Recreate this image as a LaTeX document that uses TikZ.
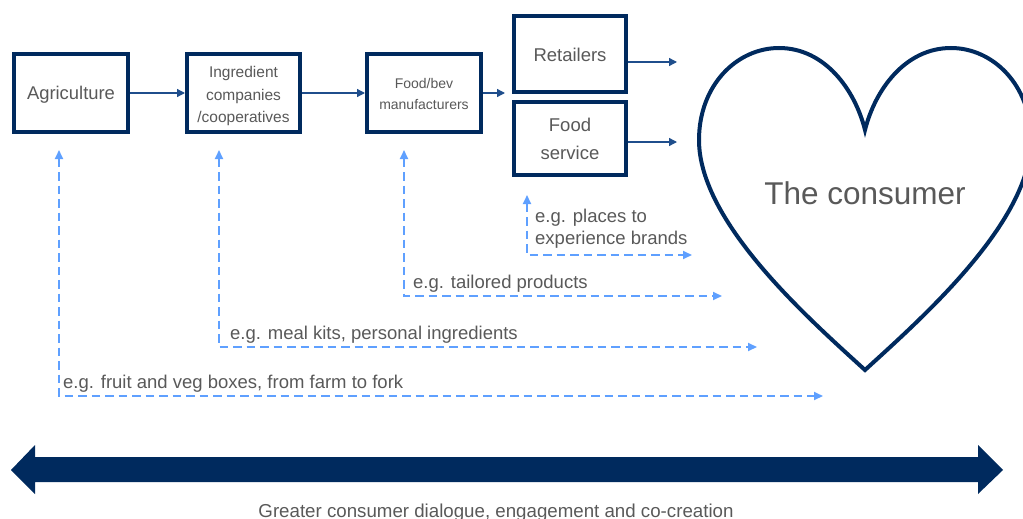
\documentclass[tikz,border=0pt]{standalone}
\usepackage{fontspec}
\setmainfont{Liberation Sans}
\usetikzlibrary{arrows.meta}

\definecolor{navy}{RGB}{0,42,94}
\definecolor{flowblue}{RGB}{31,78,140}
\definecolor{linkblue}{RGB}{95,160,255}
\definecolor{txtgray}{RGB}{89,89,89}

\newcommand{\fs}[2]{\fontsize{#1}{#2}\selectfont}
% lower a block of centred lines without changing its reported size
\newcommand{\lowered}[2]{\raisebox{-#1}[\height][\depth]{\begin{tabular}{@{}c@{}}#2\end{tabular}}}

\tikzset{
  stepbox/.style={draw=navy, line width=4pt, fill=white, text=txtgray,
    align=center, inner sep=0pt},
  flow/.style={draw=flowblue, line width=1.3pt,
    -{Triangle[length=8pt,width=8pt]}},
  link/.style={draw=linkblue, line width=2pt, dash pattern=on 8.5pt off 5pt,
    {Triangle[length=9pt,width=8pt]}-{Triangle[length=9pt,width=8pt]}},
  linklabel/.style={anchor=base west, text=txtgray, inner sep=0pt,
    font=\fs{18.5}{22}, align=left},
}

\begin{document}
\begin{tikzpicture}[x=1pt,y=-1pt]
  \useasboundingbox (0,0) rectangle (1023,519);

  % value chain boxes
  \node[stepbox, minimum width=114pt, minimum height=78pt, font=\fs{18.4}{22}]
    (agri) at (71,93) {\lowered{2.5pt}{Agriculture}};
  \node[stepbox, minimum width=113pt, minimum height=78pt, font=\fs{15.5}{22.5}]
    (ingr) at (243.5,93) {\lowered{3pt}{Ingredient\\companies\\/cooperatives}};
  \node[stepbox, minimum width=114pt, minimum height=78pt, font=\fs{14}{20}]
    (manu) at (424,93) {\lowered{2pt}{Food/bev\\manufacturers}};
  \node[stepbox, minimum width=112pt, minimum height=76pt, font=\fs{18.5}{22}]
    (retail) at (570,54) {\lowered{3pt}{Retailers}};
  \node[stepbox, minimum width=112pt, minimum height=73pt, font=\fs{18.5}{28}]
    (service) at (570,138.5) {Food\\service};

  % the consumer
  \draw[navy, line width=4pt, line join=miter]
    (865,370) .. controls (808,318) and (699,222) .. (699,140)
              .. controls (699,85) and (737,48) .. (779,48)
              .. controls (825,48) and (855,90) .. (865,130)
              .. controls (875,90) and (905,48) .. (951,48)
              .. controls (993,48) and (1031,85) .. (1031,140)
              .. controls (1031,222) and (922,318) .. (865,370) -- cycle;
  \node[text=txtgray, font=\fs{31.5}{36}] (consumer) at (865,193) {The consumer};

  % flow arrows
  \coordinate (manuEnd) at (505,93);
  \coordinate (retEnd) at (677,62);
  \coordinate (servEnd) at (677,142);
  \draw[flow] (agri.east) -- (ingr.west);
  \draw[flow] (ingr.east) -- (manu.west);
  \draw[flow] (manu.east) -- (manuEnd);
  \draw[flow] (retail.east |- retEnd) -- (retEnd);
  \draw[flow] (service.east |- servEnd) -- (servEnd);

  % direct-to-consumer links
  \coordinate (a1) at (59,150);   \coordinate (e1) at (823,396);
  \coordinate (a2) at (219,150);  \coordinate (e2) at (757,347);
  \coordinate (a3) at (404,150);  \coordinate (e3) at (722,296);
  \coordinate (a4) at (527,195);  \coordinate (e4) at (692,255);
  \draw[link] (a1) |- (e1);
  \draw[link] (a2) |- (e2);
  \draw[link] (a3) |- (e3);
  \draw[link] (a4) |- (e4);

  \node[linklabel] (l1) at (63,388) {e.g. fruit and veg boxes, from farm to fork};
  \node[linklabel] (l2) at (230,339) {e.g. meal kits, personal ingredients};
  \node[linklabel] (l3) at (413,288) {e.g. tailored products};
  \node[linklabel] (l4) at (535,244) {e.g. places to\\experience brands};

  % engagement scale
  \fill[navy] (11,470) -- (35,445) -- (35,457) -- (978,457) -- (978,445)
    -- (1003,470) -- (978,494) -- (978,482) -- (35,482) -- (35,494) -- cycle;
  \node[anchor=base, text=txtgray, inner sep=0pt, font=\fs{18.7}{22}]
    (caption) at (496,517) {Greater consumer dialogue, engagement and co-creation};
\end{tikzpicture}
\end{document}
